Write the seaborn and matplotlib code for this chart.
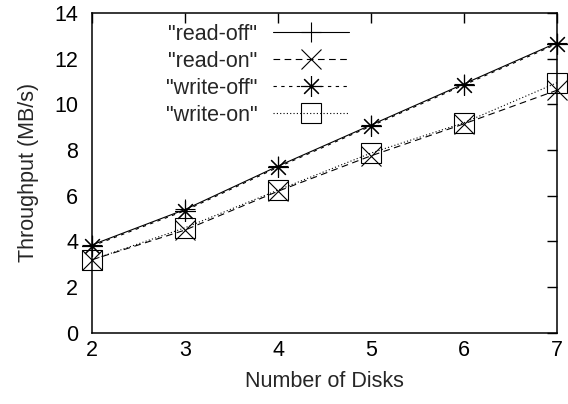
import matplotlib
matplotlib.use("Agg")
import matplotlib.pyplot as plt
import seaborn as sns
import pandas as pd

disks = [2, 3, 4, 5, 6, 7]
read_off = [3.85, 5.4, 7.3, 9.1, 10.9, 12.7]
read_on = [3.2, 4.5, 6.2, 7.75, 9.15, 10.62]
write_off = [3.8, 5.35, 7.25, 9.05, 10.85, 12.65]
write_on = [3.2, 4.6, 6.25, 7.87, 9.2, 10.95]
series_names = ['"read-off"', '"read-on"', '"write-off"', '"write-on"']
x_ticks = [2, 3, 4, 5, 6, 7]
y_ticks = [0, 2, 4, 6, 8, 10, 12, 14]

sns.set_style("white")
plt.rcParams['font.family'] = ['Liberation Sans', 'DejaVu Sans']
FS = 15.5

fig = plt.figure(figsize=(5.68, 4.04), dpi=100)
ax = fig.add_axes([0.162, 0.176, 0.819, 0.792])

styles = [
    dict(marker='+', linestyle='-'),
    dict(marker='x', linestyle=(0, (6, 4))),
    dict(marker=(8, 2, 0), linestyle=(0, (3, 4))),
    dict(marker='s', linestyle=(0, (1, 2))),
]
all_vals = [read_off, read_on, write_off, write_on]
for name, vals, st in zip(series_names, all_vals, styles):
    df = pd.DataFrame({"Disks": disks, "Throughput": vals})
    sns.lineplot(data=df, x="Disks", y="Throughput", ax=ax, color='black',
                 linewidth=0.8, marker=st['marker'], linestyle=st['linestyle'],
                 markersize=15, markeredgewidth=0.8, markeredgecolor='black',
                 markerfacecolor='none', label=name, clip_on=False)

ax.set_xlim(2, 7)
ax.set_ylim(0, 14)
ax.set_xticks(x_ticks)
ax.set_yticks(y_ticks)
ax.set_xlabel("Number of Disks", fontsize=FS)
ax.set_ylabel("Throughput (MB/s)", fontsize=FS)
ax.xaxis.set_label_coords(0.5, -0.118)
ax.yaxis.set_label_coords(-0.114, 0.5)
ax.tick_params(direction='in', length=7, width=1, labelsize=FS,
               top=True, right=True, colors='black')
ax.tick_params(axis='x', pad=5)
ax.tick_params(axis='y', pad=10)
for sp in ax.spines.values():
    sp.set_linewidth(1.1)
    sp.set_color('black')

leg = ax.legend(loc='upper right', bbox_to_anchor=(0.633, 0.968),
                bbox_transform=fig.transFigure, markerfirst=False,
                frameon=False, fontsize=FS, handlelength=3.5,
                labelspacing=0.28, borderpad=0, handletextpad=0.75)

fig.savefig("out.png", dpi=100)
